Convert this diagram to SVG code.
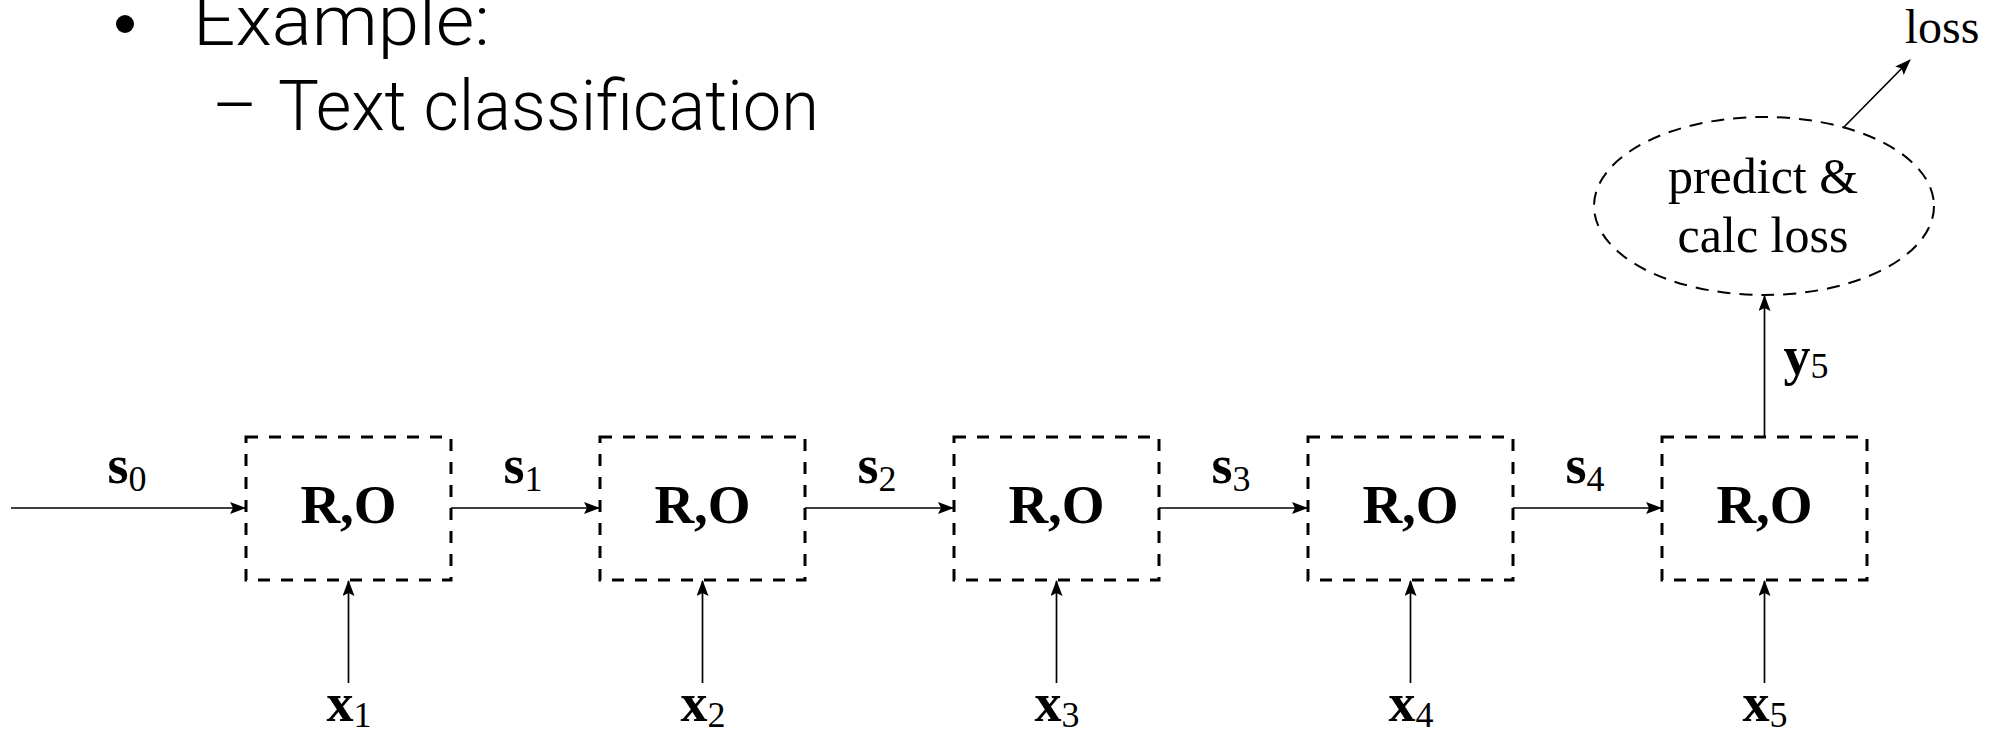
<svg xmlns="http://www.w3.org/2000/svg" width="1998" height="731" viewBox="0 0 1998 731">
  <style>
    .slide { font-family: Roboto, "Liberation Sans", sans-serif; font-weight: 300; font-size: 70px; fill: #000; }
    .box { fill: none; stroke: #000; stroke-width: 3; stroke-dasharray: 12 11; }
    .cell { font-family: "Liberation Serif", serif; font-weight: bold; font-size: 55px; text-anchor: middle; fill: #000; }
    .var { font-family: "Liberation Serif", serif; font-weight: bold; font-size: 54px; text-anchor: middle; fill: #000; }
    .sub { font-weight: normal; font-size: 36px; }
    .plain { font-family: "Liberation Serif", serif; font-size: 50px; text-anchor: middle; fill: #000; }
    .edge { fill: none; stroke: #000; stroke-width: 1.7; }
    .oval { fill: none; stroke: #000; stroke-width: 2; stroke-dasharray: 13 9; }
  </style>
  <defs>
    <marker id="tip" viewBox="0 0 16 12" refX="15" refY="6" markerWidth="16" markerHeight="12" markerUnits="userSpaceOnUse" orient="auto">
      <path d="M0,0 L16,6 L0,12 L3,6 Z" fill="#000"/>
    </marker>
  </defs>
  <rect width="1998" height="731" fill="#fff"/>

  <!-- slide bullets -->
  <g id="bullets">
    <circle cx="125" cy="24" r="9" fill="#000"/>
    <text class="slide" x="193" y="45" textLength="297" lengthAdjust="spacingAndGlyphs">Example:</text>
    <text class="slide" x="212" y="130">–</text>
    <text class="slide" x="278" y="130" textLength="541" lengthAdjust="spacingAndGlyphs">Text classification</text>
  </g>

  <!-- recurrent cells -->
  <g id="cell1"><rect class="box" x="246" y="437" width="205" height="143"/><text class="cell" x="348.5" y="523">R,O</text></g>
  <g id="cell2"><rect class="box" x="600" y="437" width="205" height="143"/><text class="cell" x="702.5" y="523">R,O</text></g>
  <g id="cell3"><rect class="box" x="954" y="437" width="205" height="143"/><text class="cell" x="1056.5" y="523">R,O</text></g>
  <g id="cell4"><rect class="box" x="1308" y="437" width="205" height="143"/><text class="cell" x="1410.5" y="523">R,O</text></g>
  <g id="cell5"><rect class="box" x="1662" y="437" width="205" height="143"/><text class="cell" x="1764.5" y="523">R,O</text></g>

  <!-- loss head -->
  <g id="head">
    <ellipse class="oval" cx="1764" cy="206" rx="170" ry="89"/>
    <text class="plain" x="1763" y="193">predict &amp;</text>
    <text class="plain" x="1763" y="252">calc loss</text>
  </g>
  <g id="loss"><text class="plain" x="1942" y="43" style="font-size:48px">loss</text></g>

  <!-- connectors -->
  <g id="connectors">
    <line class="edge" x1="11" y1="508" x2="245" y2="508" marker-end="url(#tip)"/>
    <line class="edge" x1="451" y1="508" x2="599" y2="508" marker-end="url(#tip)"/>
    <line class="edge" x1="805" y1="508" x2="953" y2="508" marker-end="url(#tip)"/>
    <line class="edge" x1="1159" y1="508" x2="1307" y2="508" marker-end="url(#tip)"/>
    <line class="edge" x1="1513" y1="508" x2="1661" y2="508" marker-end="url(#tip)"/>

    <line class="edge" x1="348.5" y1="683" x2="348.5" y2="581" marker-end="url(#tip)"/>
    <line class="edge" x1="702.5" y1="683" x2="702.5" y2="581" marker-end="url(#tip)"/>
    <line class="edge" x1="1056.5" y1="683" x2="1056.5" y2="581" marker-end="url(#tip)"/>
    <line class="edge" x1="1410.5" y1="683" x2="1410.5" y2="581" marker-end="url(#tip)"/>
    <line class="edge" x1="1764.5" y1="683" x2="1764.5" y2="581" marker-end="url(#tip)"/>

    <line class="edge" x1="1764.5" y1="436" x2="1764.5" y2="296" marker-end="url(#tip)"/>
    <line class="edge" x1="1843" y1="128" x2="1910" y2="60" marker-end="url(#tip)"/>
  </g>

  <!-- signal labels -->
  <g id="labels">
    <text class="var" x="127" y="483">s<tspan class="sub" dy="8">0</tspan></text>
    <text class="var" x="523" y="483">s<tspan class="sub" dy="8">1</tspan></text>
    <text class="var" x="877" y="483">s<tspan class="sub" dy="8">2</tspan></text>
    <text class="var" x="1231" y="483">s<tspan class="sub" dy="8">3</tspan></text>
    <text class="var" x="1585" y="483">s<tspan class="sub" dy="8">4</tspan></text>

    <text class="var" x="349" y="721">x<tspan class="sub" dy="6">1</tspan></text>
    <text class="var" x="703" y="721">x<tspan class="sub" dy="6">2</tspan></text>
    <text class="var" x="1057" y="721">x<tspan class="sub" dy="6">3</tspan></text>
    <text class="var" x="1411" y="721">x<tspan class="sub" dy="6">4</tspan></text>
    <text class="var" x="1765" y="721">x<tspan class="sub" dy="6">5</tspan></text>

    <text class="var" x="1806" y="374">y<tspan class="sub" dy="4">5</tspan></text>
  </g>
</svg>
